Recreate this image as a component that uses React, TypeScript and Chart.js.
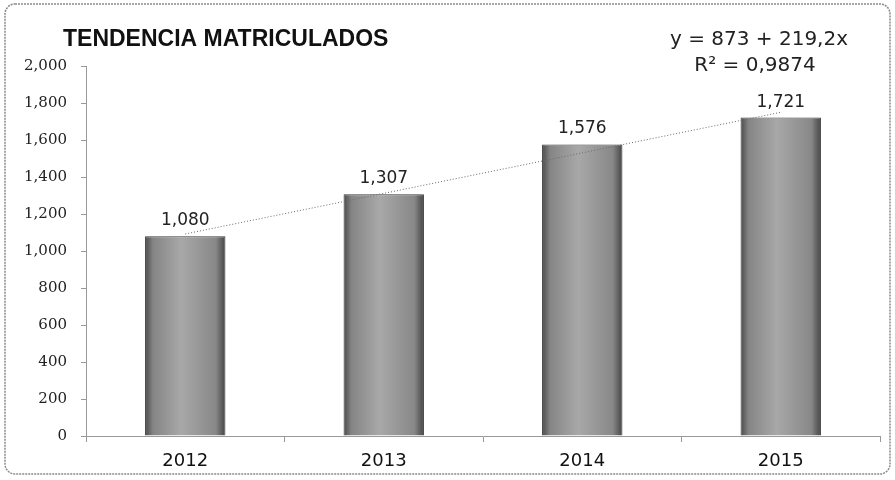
import React, { useEffect, useRef } from "react";
import { Chart, registerables } from "chart.js";

Chart.register(...registerables);

const categories = ["2012", "2013", "2014", "2015"];
const matriculados = [1080, 1307, 1576, 1721];
const tendencia = [1092.2, 1311.4, 1530.6, 1749.8];
const titleText = "TENDENCIA MATRICULADOS";
const equationText = "y = 873 + 219,2x";
const r2Text = "R² = 0,9874";
const yMin = 0;
const yMax = 2000;
const yStep = 200;

const fmt = (v: number) => v.toLocaleString("en-US");

const decorPlugin = {
  id: "decor",
  beforeDraw(chart: any) {
    const ctx = chart.ctx;
    ctx.save();
    ctx.fillStyle = "#ffffff";
    ctx.fillRect(0, 0, chart.width, chart.height);
    ctx.strokeStyle = "#8a8a8a";
    ctx.lineWidth = 1.5;
    ctx.setLineDash([2, 1]);
    ctx.beginPath();
    (ctx as any).roundRect(5, 4, chart.width - 10, chart.height - 10, 10);
    ctx.stroke();
    ctx.restore();
  },
  afterDraw(chart: any) {
    const ctx = chart.ctx;
    ctx.save();
    ctx.fillStyle = "#111";
    ctx.textBaseline = "middle";
    ctx.textAlign = "left";
    ctx.font = "bold 23px 'Liberation Sans', Arial, sans-serif";
    ctx.fillText(titleText, 63, 40);
    ctx.textAlign = "center";
    ctx.font = "20px 'DejaVu Sans', sans-serif";
    ctx.fillStyle = "#222";
    ctx.fillText(equationText, 759, 40);
    ctx.fillText(r2Text, 755, 66);
    const meta = chart.getDatasetMeta(1);
    ctx.font = "17px 'DejaVu Sans', sans-serif";
    ctx.textBaseline = "bottom";
    meta.data.forEach((el: any, i: number) => {
      ctx.fillText(fmt(matriculados[i]), el.x, el.y - 7);
    });
    ctx.restore();
  },
};

export default function App() {
  const ref = useRef<HTMLCanvasElement>(null);
  useEffect(() => {
    if (!ref.current) return;
    const chart = new Chart(ref.current, {
      type: "bar",
      data: {
        labels: categories,
        datasets: [
          {
            type: "line",
            label: "Tendencia",
            data: tendencia,
            borderColor: "#6a6a6a",
            borderWidth: 1,
            borderDash: [1, 2],
            pointRadius: 0,
            fill: false,
            order: 0,
          } as any,
          {
            type: "bar",
            label: "Matriculados",
            data: matriculados,
            barPercentage: 0.81,
            categoryPercentage: 0.5,
            borderColor: "#3a3a3a",
            borderWidth: 1,
            order: 1,
            backgroundColor: (c: any) => {
              const chart = c.chart;
              const xs = chart.scales && chart.scales.x;
              if (!xs || c.dataIndex === undefined) return "#9a9a9a";
              const cx = xs.getPixelForValue(c.dataIndex);
              const w = (xs.width / categories.length) * 0.405;
              if (!isFinite(cx) || !isFinite(w) || w <= 0) return "#9a9a9a";
              const g = chart.ctx.createLinearGradient(cx - w / 2, 0, cx + w / 2, 0);
              g.addColorStop(0, "#4a4a4a");
              g.addColorStop(0.1, "#858585");
              g.addColorStop(0.45, "#a8a8a8");
              g.addColorStop(0.88, "#888888");
              g.addColorStop(1, "#444444");
              return g;
            },
          } as any,
        ],
      },
      options: {
        responsive: false,
        animation: false,
        layout: { padding: { left: 6, right: 15, top: 66, bottom: 0 } },
        plugins: {
          legend: { display: false },
          title: { display: false },
          tooltip: { enabled: false },
        },
        scales: {
          x: {
            offset: true,
            grid: {
              offset: true,
              drawOnChartArea: false,
              tickLength: 6,
              color: "#999",
            },
            border: { display: true, color: "#999", dash: [2, 2] },
            ticks: {
              color: "#111",
              padding: 9,
              font: { family: "'DejaVu Sans', sans-serif", size: 18 },
            },
            afterFit: (s: any) => {
              s.height = 44;
            },
          },
          y: {
            min: yMin,
            max: yMax,
            grid: {
              drawOnChartArea: false,
              tickLength: 5,
              color: "#999",
            },
            border: { display: true, color: "#999", dash: [2, 2] },
            ticks: {
              stepSize: yStep,
              color: "#222",
              padding: 14,
              font: { family: "'DejaVu Serif', serif", size: 15 },
              callback: (v: any) => fmt(Number(v)),
            },
            afterFit: (s: any) => {
              s.width = 80;
            },
          },
        },
      },
      plugins: [decorPlugin],
    });
    return () => chart.destroy();
  }, []);
  return (
    <div style={{ position: "absolute", left: 0, top: 0, width: 895, height: 480 }}>
      <canvas ref={ref} width={895} height={480} />
    </div>
  );
}
